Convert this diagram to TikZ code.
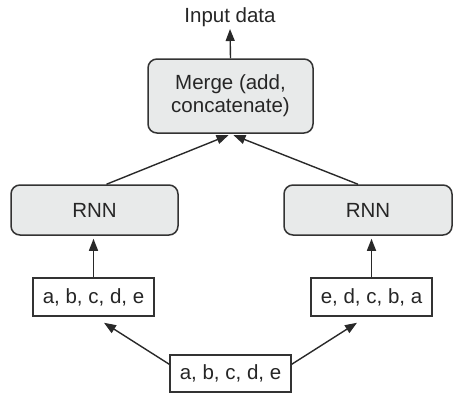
\documentclass[tikz,border=0pt]{standalone}
\usepackage{fontspec}
\setmainfont{Liberation Sans}
\usetikzlibrary{arrows.meta,calc}
\definecolor{boxfill}{HTML}{E8EAEA}
\definecolor{edge}{HTML}{333333}
\tikzset{
  rbox/.style={draw=edge, line width=1.5pt, fill=boxfill, rounded corners=9pt, inner sep=0pt, align=center},
  sbox/.style={draw=edge, line width=1.5pt, fill=white, inner sep=0pt},
  conn/.style={draw=edge!80!black, line width=1.4pt, -{Triangle[length=12pt,width=9pt]}},
  txt/.style={font=\fontsize{20.5}{23}\selectfont, text=black!85}
}
\begin{document}
\begin{tikzpicture}[x=1pt,y=-1pt]
\useasboundingbox (0,0) rectangle (469,405);
\node[txt, anchor=base] (in) at (230,22) {Input data};
\coordinate (intip) at (230,29);
\node[rbox, txt, minimum width=165pt, minimum height=74pt] (merge) at (230.5,96) {Merge (add,\\concatenate)};
\node[rbox, txt, minimum width=167pt, minimum height=50pt] (rl) at (94.5,210) {RNN};
\node[rbox, txt, minimum width=168pt, minimum height=50pt] (rr) at (368,210) {RNN};
\node[sbox, txt, minimum width=121pt, minimum height=38pt] (sl) at (93.5,297) {a, b, c, d, e};
\node[sbox, txt, minimum width=121pt, minimum height=38pt] (sr) at (371.5,297) {e, d, c, b, a};
\node[sbox, txt, minimum width=121pt, minimum height=37pt] (bot) at (230.5,373.5) {a, b, c, d, e};

\draw[conn] (merge.north) -- (intip);
\draw[conn, shorten >=1pt] ($(rl.north)+(12,0)$) -- ($(merge.south)+(-1,1)$);
\draw[conn, shorten >=1pt] ($(rr.north)+(-10,0)$) -- ($(merge.south)+(2,1)$);
\draw[conn, shorten >=3pt] (sl.north) -- (sl.north |- rl.south);
\draw[conn, shorten >=3pt] (sr.north) -- (sr.north |- rr.south);
\draw[conn] ($(bot.north west)+(0,10)$) -- ($(sl.south)+(10.5,6)$);
\draw[conn] ($(bot.north east)+(0,10)$) -- ($(sr.south)+(-14.5,6)$);
\end{tikzpicture}
\end{document}
